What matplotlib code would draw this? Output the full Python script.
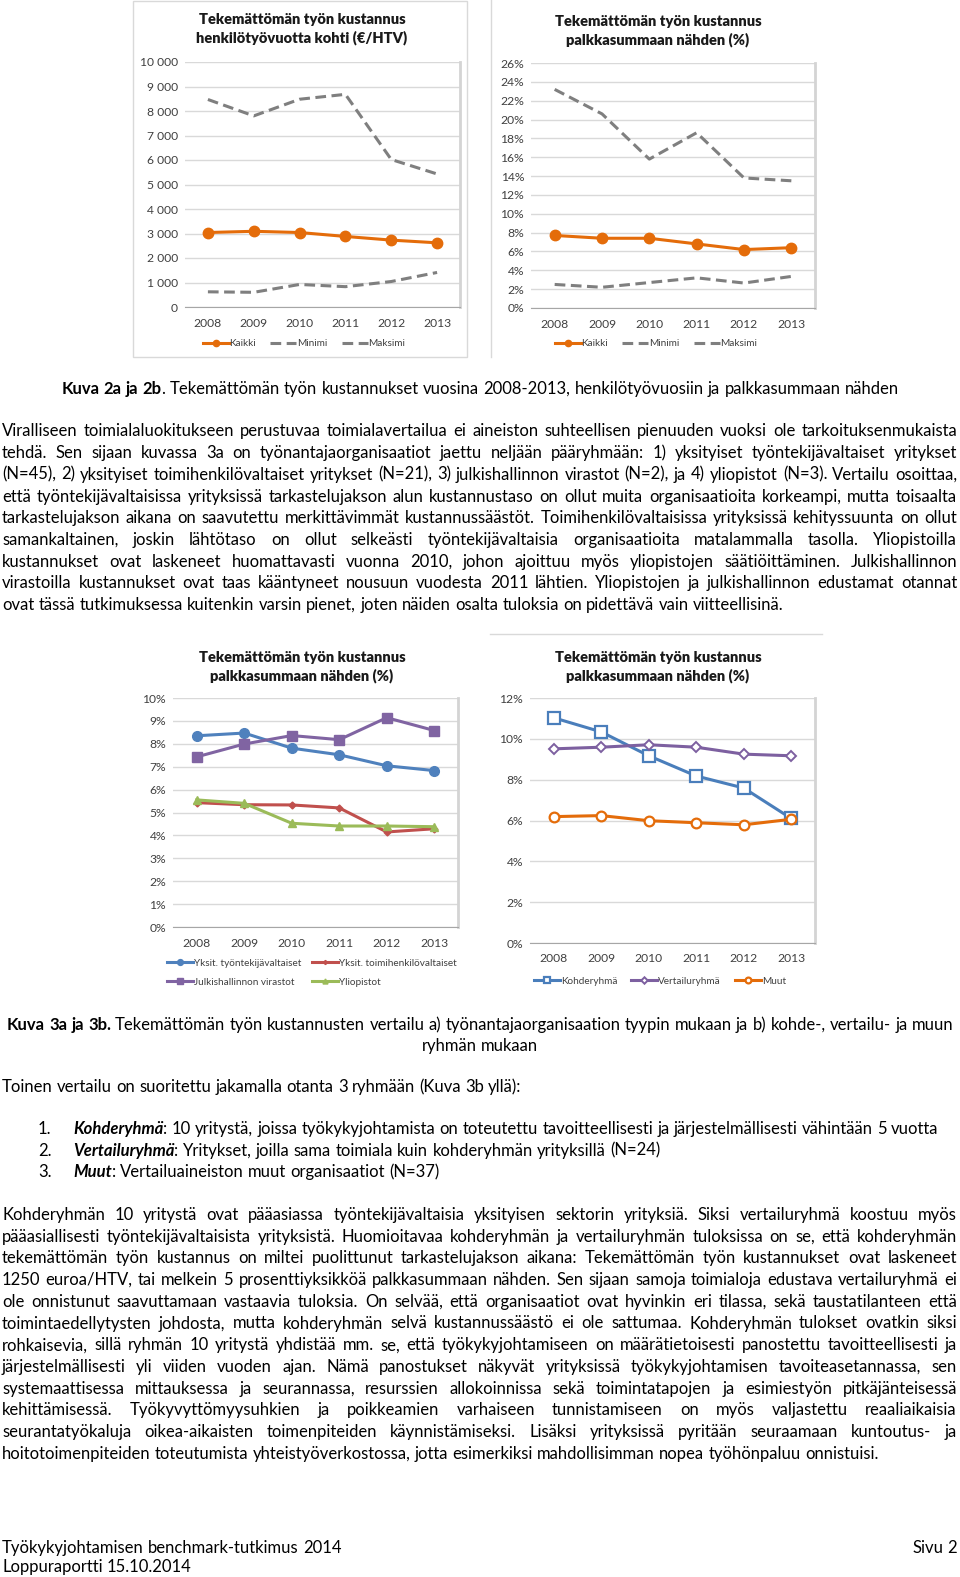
import re
import numpy as np
import matplotlib
matplotlib.use('Agg')
import matplotlib.pyplot as plt
from matplotlib.lines import Line2D
from matplotlib.patches import Rectangle

W, H = 960, 1577
plt.rcParams['font.family'] = ['Lato', 'DejaVu Sans']

# ---- chart data ----
years = ['2008', '2009', '2010', '2011', '2012', '2013']

htv_kaikki = [3040, 3090, 3040, 2880, 2730, 2620]
htv_minimi = [620, 600, 920, 830, 1040, 1410]
htv_maksimi = [8470, 7800, 8480, 8680, 6020, 5430]

pct_kaikki = [7.7, 7.4, 7.4, 6.8, 6.2, 6.4]
pct_minimi = [2.5, 2.2, 2.7, 3.2, 2.65, 3.35]
pct_maksimi = [23.2, 20.6, 15.8, 18.6, 13.8, 13.5]

org_tyontekija = [8.35, 8.47, 7.81, 7.52, 7.04, 6.83]
org_toimihenkilo = [5.43, 5.34, 5.33, 5.2, 4.15, 4.29]
org_julkinen = [7.43, 7.99, 8.36, 8.18, 9.14, 8.58]
org_yliopisto = [5.55, 5.4, 4.53, 4.41, 4.41, 4.38]

grp_kohde = [11.03, 10.34, 9.17, 8.18, 7.59, 6.1]
grp_vertailu = [9.51, 9.59, 9.71, 9.59, 9.25, 9.17]
grp_muut = [6.19, 6.24, 5.99, 5.89, 5.79, 6.06]

# ---- page text ----
caption1 = '**Kuva 2a ja 2b**. Tekemättömän työn kustannukset vuosina 2008-2013, henkilötyövuosiin ja palkkasummaan nähden'
para1 = [
    'Viralliseen toimialaluokitukseen perustuvaa toimialavertailua ei aineiston suhteellisen pienuuden vuoksi ole tarkoituksenmukaista',
    'tehdä.  Sen sijaan kuvassa 3a on työnantajaorganisaatiot jaettu neljään pääryhmään: 1) yksityiset työntekijävaltaiset yritykset',
    '(N=45), 2) yksityiset toimihenkilövaltaiset yritykset (N=21), 3) julkishallinnon virastot (N=2), ja 4) yliopistot (N=3). Vertailu osoittaa,',
    'että työntekijävaltaisissa yrityksissä tarkastelujakson alun kustannustaso on ollut muita organisaatioita korkeampi, mutta toisaalta',
    'tarkastelujakson aikana on saavutettu merkittävimmät kustannussäästöt. Toimihenkilövaltaisissa yrityksissä kehityssuunta on ollut',
    'samankaltainen, joskin lähtötaso on ollut selkeästi työntekijävaltaisia organisaatioita matalammalla tasolla. Yliopistoilla',
    'kustannukset ovat laskeneet huomattavasti vuonna 2010, johon ajoittuu myös yliopistojen säätiöittäminen. Julkishallinnon',
    'virastoilla kustannukset ovat taas kääntyneet nousuun vuodesta 2011 lähtien. Yliopistojen ja julkishallinnon edustamat otannat',
    'ovat tässä tutkimuksessa kuitenkin varsin pienet, joten näiden osalta tuloksia on pidettävä vain viitteellisinä.',
]
caption2 = [
    '**Kuva 3a ja 3b.** Tekemättömän työn kustannusten vertailu a) työnantajaorganisaation tyypin mukaan ja b) kohde-, vertailu- ja muun',
    'ryhmän mukaan',
]
intro2 = 'Toinen vertailu on suoritettu jakamalla otanta 3 ryhmään (Kuva 3b yllä):'
list_items = [
    '__Kohderyhmä__: 10 yritystä, joissa työkykyjohtamista on toteutettu tavoitteellisesti ja järjestelmällisesti vähintään 5 vuotta',
    '__Vertailuryhmä__: Yritykset, joilla sama toimiala kuin kohderyhmän yrityksillä (N=24)',
    '__Muut__: Vertailuaineiston muut organisaatiot (N=37)',
]
para3 = [
    'Kohderyhmän 10 yritystä ovat pääasiassa työntekijävaltaisia yksityisen sektorin yrityksiä. Siksi vertailuryhmä koostuu myös',
    'pääasiallisesti työntekijävaltaisista yrityksistä. Huomioitavaa kohderyhmän ja vertailuryhmän tuloksissa on se, että kohderyhmän',
    'tekemättömän työn kustannus on miltei puolittunut tarkastelujakson aikana: Tekemättömän työn kustannukset ovat laskeneet',
    '1250 euroa/HTV, tai melkein 5 prosenttiyksikköä palkkasummaan nähden. Sen sijaan samoja toimialoja edustava vertailuryhmä ei',
    'ole onnistunut saavuttamaan vastaavia tuloksia. On selvää, että organisaatiot ovat hyvinkin eri tilassa, sekä taustatilanteen että',
    'toimintaedellytysten johdosta, mutta kohderyhmän selvä kustannussäästö ei ole sattumaa. Kohderyhmän tulokset ovatkin siksi',
    'rohkaisevia, sillä ryhmän 10 yritystä yhdistää mm. se, että työkykyjohtamiseen on määrätietoisesti panostettu tavoitteellisesti ja',
    'järjestelmällisesti yli viiden vuoden ajan. Nämä panostukset näkyvät yrityksissä työkykyjohtamisen tavoiteasetannassa, sen',
    'systemaattisessa mittauksessa ja seurannassa, resurssien allokoinnissa sekä toimintatapojen ja esimiestyön pitkäjänteisessä',
    'kehittämisessä. Työkyvyttömyysuhkien ja poikkeamien varhaiseen tunnistamiseen on myös valjastettu reaaliaikaisia',
    'seurantatyökaluja oikea-aikaisten toimenpiteiden käynnistämiseksi. Lisäksi yrityksissä pyritään seuraamaan kuntoutus- ja',
    'hoitotoimenpiteiden toteutumista yhteistyöverkostossa, jotta esimerkiksi mahdollisimman nopea työhönpaluu onnistuisi.',
]

ORANGE = '#E46C0A'
GRAY = '#7F7F7F'
TXT = '#404040'

fig = plt.figure(figsize=(9.6, 15.77), dpi=100)
renderer = fig.canvas.get_renderer()

STYLES = {'n': {}, 'b': {'fontweight': 'bold'},
          'bi': {'fontweight': 'bold', 'fontstyle': 'italic'}}


def parse(line):
    words = [[]]
    style = 'n'
    for chunk in re.split(r'(\*\*|__)', line):
        if chunk == '**':
            style = 'n' if style == 'b' else 'b'
            continue
        if chunk == '__':
            style = 'n' if style == 'bi' else 'bi'
            continue
        for j, p in enumerate(chunk.split(' ')):
            if j > 0:
                words.append([])
            if p:
                words[-1].append((p, style))
    return [w for w in words if w]


def text_width(s, st, size):
    t = fig.text(0, 0, s, fontsize=size, **STYLES[st])
    w = t.get_window_extent(renderer).width
    t.remove()
    return w


def line_width(line, size):
    words = parse(line)
    sp = text_width('a a', 'n', size) - text_width('aa', 'n', size)
    return sum(text_width(p, st, size) for w in words for p, st in w) + sp * (len(words) - 1)


def draw_line(line, y, x, size, justify_to=None, align='left'):
    words = parse(line)
    widths = [[text_width(p, st, size) for p, st in w] for w in words]
    total_words = sum(sum(w) for w in widths)
    if justify_to is not None and len(words) > 1:
        gap = (justify_to - x - total_words) / (len(words) - 1)
    else:
        gap = text_width('a a', 'n', size) - text_width('aa', 'n', size)
    total = total_words + gap * (len(words) - 1)
    if align == 'center':
        x = x - total / 2
    elif align == 'right':
        x = x - total
    for w, ws in zip(words, widths):
        for (p, st), pw in zip(w, ws):
            fig.text(x / W, 1 - y / H, p, fontsize=size, va='baseline',
                     ha='left', color='black', **STYLES[st])
            x += pw
        x += gap


# body font size: calibrate on the last line of the final paragraph
body = 10 * 883 / line_width(para3[-1], 10)
widest = max(line_width(l, body) for l in para1 + para3)
if widest > 950:
    body *= 950 / widest

base = 4  # baseline offset from visual line centre (px)

draw_line(caption1, 390 + base, 480, body, align='center')
for i, l in enumerate(para1):
    jt = 957 if i < len(para1) - 1 else None
    draw_line(l, 432.5 + 21.7 * i + base, 2, body, justify_to=jt)

draw_line(caption2[0], 1026 + base, 480, body, align='center')
draw_line(caption2[1], 1047 + base, 480, body, align='center')
draw_line(intro2, 1088 + base, 2, body)
for i, l in enumerate(list_items):
    y = 1130 + 21.7 * i + base
    draw_line(f'{i + 1}.', y, 38, body)
    draw_line(l, y, 73, body)
for i, l in enumerate(para3):
    jt = 957 if i < len(para3) - 1 else None
    draw_line(l, 1216 + 21.7 * i + base, 2, body, justify_to=jt)

draw_line('Työkykyjohtamisen benchmark-tutkimus 2014', 1549 + base, 2, body)
draw_line('Loppuraportti 15.10.2014', 1568 + base, 2, body)
draw_line('Sivu 2', 1549 + base, 957, body, align='right')

# ---- chart frames ----
fig.add_artist(Rectangle((133 / W, 1 - 357 / H), (467 - 133) / W, 356 / H,
                         transform=fig.transFigure, fill=False, ec='#d9d9d9', lw=1))
fig.add_artist(Line2D([491 / W, 491 / W], [1, 1 - 357 / H], transform=fig.transFigure,
                      color='#d9d9d9', lw=1))
fig.add_artist(Line2D([490 / W, 822 / W], [1 - 634 / H, 1 - 634 / H],
                      transform=fig.transFigure, color='#d9d9d9', lw=1))


def px_axes(x0, y0, x1, y1):
    return fig.add_axes([x0 / W, 1 - y1 / H, (x1 - x0) / W, (y1 - y0) / H])


def style_axes(ax, ymax, step, fmt, xpad):
    ticks = np.arange(0, ymax + step / 2, step)
    ax.set_xlim(-0.5, 5.5)
    ax.set_ylim(0, ymax)
    ax.set_yticks(ticks)
    ax.set_yticklabels([fmt(v) for v in ticks])
    ax.set_xticks(range(len(years)))
    ax.set_xticklabels(years)
    ax.grid(axis='y', color='#d9d9d9', lw=1)
    ax.set_axisbelow(True)
    ax.spines['left'].set_visible(False)
    ax.spines['top'].set_visible(False)
    ax.spines['bottom'].set_color('#a6a6a6')
    ax.spines['right'].set_color('#d4d4d4')
    ax.spines['right'].set_linewidth(2)
    ax.tick_params(length=0, labelsize=8.7, colors=TXT)
    ax.tick_params(axis='y', pad=5)
    ax.tick_params(axis='x', pad=xpad)


def title(text, x, y):
    fig.text(x / W, 1 - y / H, text, ha='center', va='center', fontsize=10.5,
             fontweight='heavy', color='#1a1a1a', linespacing=1.35)


def legend(h, l, x, y, ncol, colsp, lsp=0.8):
    fig.legend(h, l, loc='center', bbox_to_anchor=(x / W, 1 - y / H), ncol=ncol,
               frameon=False, fontsize=7.2, handlelength=2.6, columnspacing=colsp,
               handletextpad=0.1, labelcolor=TXT, borderpad=0, labelspacing=lsp,
               markerscale=0.6)


xs = np.arange(len(years))
dash = (0, (3.5, 1.8))

# chart 2a
ax1 = px_axes(185, 62, 460, 307)
a = ax1.plot(xs, htv_kaikki, color=ORANGE, lw=2.2, marker='o', ms=7.5)
b = ax1.plot(xs, htv_minimi, color=GRAY, lw=2.2, ls=dash)
c = ax1.plot(xs, htv_maksimi, color=GRAY, lw=2.2, ls=dash)
style_axes(ax1, 10000, 1000, lambda v: f'{int(v):,}'.replace(',', ' '), 8)
title('Tekemättömän työn kustannus\nhenkilötyövuotta kohti (€/HTV)', 302, 29)
legend(a + b + c, ['Kaikki', 'Minimi', 'Maksimi'], 304, 344, 3, 1.4)

# chart 2b
ax2 = px_axes(531, 63, 815, 308)
a = ax2.plot(xs, pct_kaikki, color=ORANGE, lw=2.2, marker='o', ms=7.5)
b = ax2.plot(xs, pct_minimi, color=GRAY, lw=2.2, ls=dash)
c = ax2.plot(xs, pct_maksimi, color=GRAY, lw=2.2, ls=dash)
style_axes(ax2, 26, 2, lambda v: f'{int(v)}%', 8)
title('Tekemättömän työn kustannus\npalkkasummaan nähden (%)', 658, 31)
legend(a + b + c, ['Kaikki', 'Minimi', 'Maksimi'], 656, 344, 3, 1.4)

# chart 3a
ax3 = px_axes(173, 698, 458, 927)
a = ax3.plot(xs, org_tyontekija, color='#4F81BD', lw=2.2, marker='o', ms=7)
b = ax3.plot(xs, org_toimihenkilo, color='#C0504D', lw=2.2, marker='D', ms=3.5)
c = ax3.plot(xs, org_julkinen, color='#8064A2', lw=2.2, marker='s', ms=6.5)
d = ax3.plot(xs, org_yliopisto, color='#9BBB59', lw=2.2, marker='^', ms=6)
style_axes(ax3, 10, 1, lambda v: f'{int(v)}%', 8)
title('Tekemättömän työn kustannus\npalkkasummaan nähden (%)', 302, 667)
legend(a + c + b + d, ['Yksit. työntekijävaltaiset', 'Julkishallinnon virastot',
                       'Yksit. toimihenkilövaltaiset', 'Yliopistot'], 312, 973, 2, 1.0, lsp=1.0)

# chart 3b
ax4 = px_axes(530, 698, 815, 943)
a = ax4.plot(xs, grp_kohde, color='#4A7EBB', lw=2.2, marker='s', ms=8, mfc='white', mew=1.6)
b = ax4.plot(xs, grp_vertailu, color='#7D60A0', lw=2.2, marker='D', ms=5.5, mfc='white', mew=1.4)
c = ax4.plot(xs, grp_muut, color=ORANGE, lw=2.2, marker='o', ms=7, mfc='white', mew=1.6)
style_axes(ax4, 12, 2, lambda v: f'{int(v)}%', 7)
title('Tekemättömän työn kustannus\npalkkasummaan nähden (%)', 658, 667)
legend(a + b + c, ['Kohderyhmä', 'Vertailuryhmä', 'Muut'], 660, 981, 3, 1.4)

fig.savefig('out.png', dpi=100)
